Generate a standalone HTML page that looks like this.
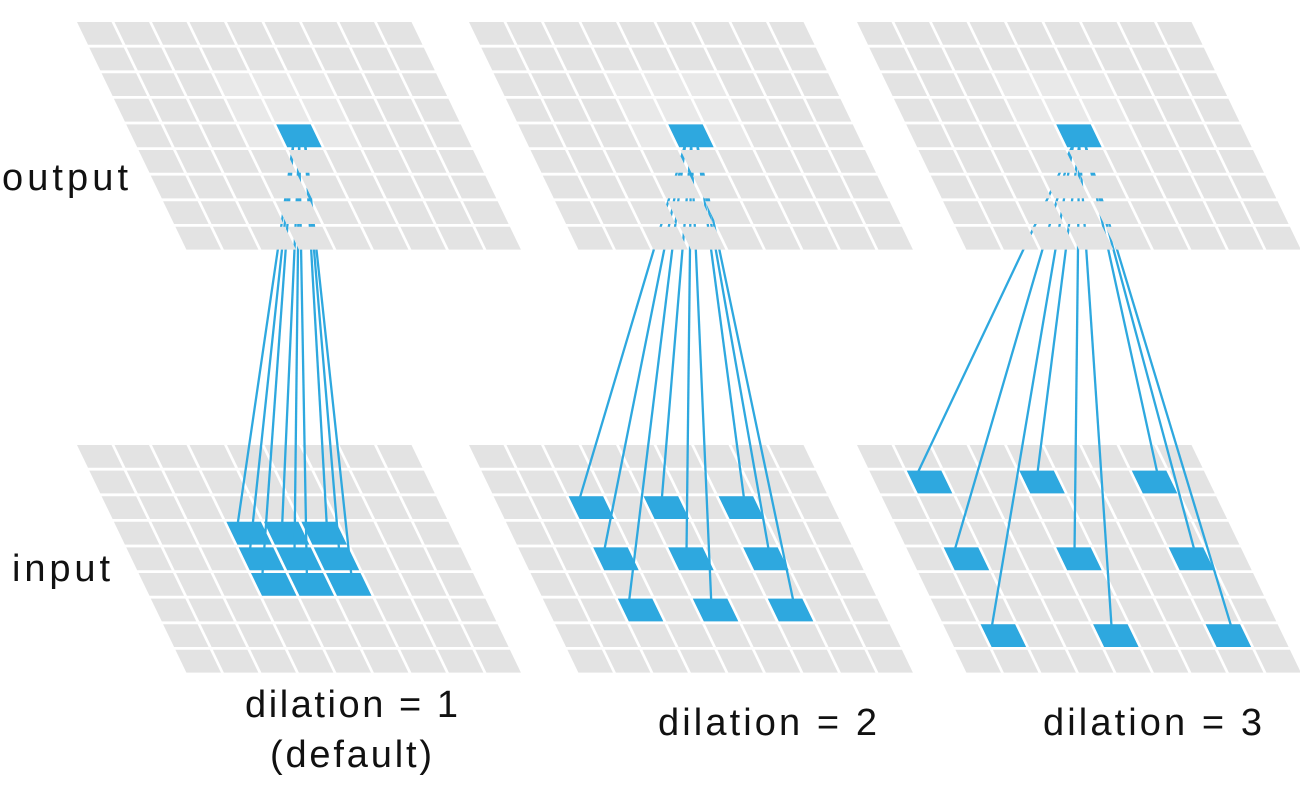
<!DOCTYPE html>
<html><head><meta charset="utf-8"><style>
html,body{margin:0;padding:0;background:#fff;}
svg{display:block;}
text{font-family:"Liberation Sans",sans-serif;fill:#111;}
</style></head><body>
<svg id="s" width="1300" height="800" viewBox="0 0 1300 800" xmlns="http://www.w3.org/2000/svg">
<g id="g"></g>
<text x="2" y="190" font-size="38" textLength="126" lengthAdjust="spacing">output</text>
<text x="12" y="581" font-size="38" textLength="98" lengthAdjust="spacing">input</text>
<text x="245" y="717" font-size="38" textLength="213" lengthAdjust="spacing">dilation = 1</text>
<text x="270" y="767" font-size="38" textLength="162" lengthAdjust="spacing">(default)</text>
<text x="658" y="735" font-size="38" textLength="219" lengthAdjust="spacing">dilation = 2</text>
<text x="1043" y="735" font-size="38" textLength="219" lengthAdjust="spacing">dilation = 3</text>
</svg>
<script>
var g=document.getElementById('g');var NS='http://www.w3.org/2000/svg';
var DX=12.3,CW=37.5,RH=25.6,W=34.5,H=22.8,SK=11;
var GR='#e3e3e3',BL='#2ea8df';
function cell(ox,oy,r,c,fill){var x=ox+r*DX+c*CW,y=oy+r*RH;
var p=document.createElementNS(NS,'polygon');
p.setAttribute('points',x+','+y+' '+(x+W)+','+y+' '+(x+W+SK)+','+(y+H)+' '+(x+SK)+','+(y+H));
p.setAttribute('fill',fill);g.appendChild(p);return [x,y];}
function line(x1,y1,x2,y2){var l=document.createElementNS(NS,'line');
l.setAttribute('x1',x1);l.setAttribute('y1',y1);l.setAttribute('x2',x2);l.setAttribute('y2',y2);
l.setAttribute('stroke',BL);l.setAttribute('stroke-width','2.3');g.appendChild(l);}
var panels=[[77,1],[469,2],[857,3]];
panels.forEach(function(pp){var ox=pp[0],d=pp[1],oyO=22,oyI=445;
var idx=[4-d,4,4+d];
for(var r=0;r<9;r++)for(var c=0;c<9;c++)cell(ox,oyI,r,c,GR);
var ends=[];
idx.forEach(function(r,i){idx.forEach(function(c,j){var p=cell(ox,oyI,r,c,BL);ends.push([p[0]+W*(0.3+0.2*j)+SK*0.1,p[1]+1]);});});
var sx=ox+4*DX+4*CW+23,sy=oyO+4*RH+20;
ends.forEach(function(e,k){line(sx-6+(k%3)*6,sy,e[0],e[1]);});
for(var r=0;r<9;r++)for(var c=0;c<9;c++){if(r==4&&c==4)continue;
var f=GR;if(r>=2&&r<=4&&c>=3&&c<=5)f='#e9e9e9';cell(ox,oyO,r,c,f);}
cell(ox,oyO,4,4,BL);
});
</script>
</body></html>
